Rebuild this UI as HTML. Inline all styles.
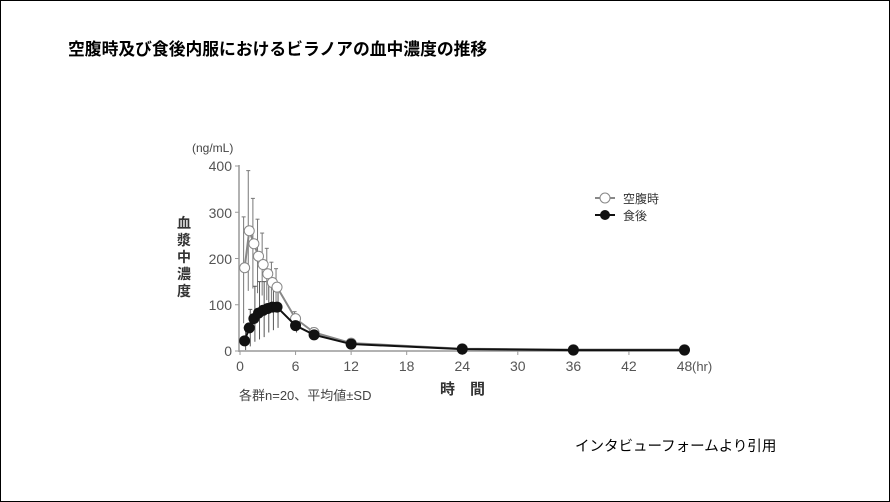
<!DOCTYPE html>
<html><head><meta charset="utf-8"><style>
body{margin:0;background:#fff;}
#f{position:absolute;left:0;top:0;width:888px;height:500px;border:1px solid #000;}
svg{position:absolute;left:0;top:0;}
text{font-family:"Liberation Sans","Noto Sans CJK JP",sans-serif;}
</style></head><body>
<div id="f"></div>
<svg id="s" width="890" height="502" xmlns="http://www.w3.org/2000/svg">
<text x="68" y="55" font-size="16.8" font-weight="bold" fill="#000">空腹時及び食後内服におけるビラノアの血中濃度の推移</text>
<text x="192" y="152" font-size="12" fill="#444">(ng/mL)</text>
<g font-size="14" fill="#555" text-anchor="end">
<text x="232" y="171">400</text><text x="232" y="218">300</text><text x="232" y="264">200</text><text x="232" y="310">100</text><text x="232" y="356">0</text>
</g>
<g font-size="14" font-weight="bold" fill="#333" text-anchor="middle">
<text x="184" y="228">血</text><text x="184" y="245">漿</text><text x="184" y="262">中</text><text x="184" y="279">濃</text><text x="184" y="296">度</text>
</g>
<g font-size="14" fill="#555" text-anchor="middle" id="xl"></g>
<text x="692" y="371" font-size="13" fill="#555">(hr)</text>
<text x="440" y="394" font-size="15" font-weight="bold" fill="#333">時</text>
<text x="470" y="394" font-size="15" font-weight="bold" fill="#333">間</text>
<text x="239" y="400" font-size="13" fill="#444">各群n=20、平均値±SD</text>
<line x1="595" y1="198" x2="615" y2="198" stroke="#888" stroke-width="2"/><circle cx="605" cy="198" r="5" fill="#fff" stroke="#888"/>
<text x="623" y="203" font-size="12" fill="#333">空腹時</text>
<line x1="595" y1="215" x2="615" y2="215" stroke="#111" stroke-width="2"/><circle cx="605" cy="215" r="5" fill="#111"/>
<text x="623" y="220" font-size="12" fill="#333">食後</text>
<text x="575" y="451" font-size="14.5" fill="#000">インタビューフォームより引用</text>
<g id="g"></g>
</svg>
<script>
var X=t=>240+t*9.26,Y=v=>351-v*0.4625,ns="http://www.w3.org/2000/svg",g=document.getElementById('g');
function el(n,a){var e=document.createElementNS(ns,n);for(var k in a)e.setAttribute(k,a[k]);g.appendChild(e);return e;}
el('line',{x1:239,y1:165,x2:239,y2:352,stroke:'#999','stroke-width':1.5});
el('line',{x1:239,y1:351,x2:686,y2:351,stroke:'#999','stroke-width':1.5});
[0,100,200,300,400].forEach(v=>el('line',{x1:235,y1:Y(v),x2:239,y2:Y(v),stroke:'#999'}));
var xl=document.getElementById('xl');
for(var t=0;t<=48;t+=6){el('line',{x1:X(t),y1:351,x2:X(t),y2:355,stroke:'#999'});var tx=document.createElementNS(ns,'text');tx.setAttribute('x',X(t));tx.setAttribute('y',371);tx.textContent=t;xl.appendChild(tx);}
var T=[0.5,1,1.5,2,2.5,3,3.5,4,6,8,12,24,36,48];
var F=[180,260,232,205,187,167,148,138,70,40,17,5,3,3],Fu=[290,390,330,285,255,222,192,178,85,50,20,6,4,4],Fl=[60,130,135,125,120,110,105,100,55,32,14,4,2,2];
var E=[22,50,70,82,88,92,95,95,55,35,15,4,2,2],Eu=[50,90,140,150,150,150,150,145,70,45,18,5,3,3],El=[2,10,20,25,30,40,45,50,40,25,12,3,1,1];
T.forEach((t,i)=>{el('line',{x1:X(t)-1,y1:Y(Fu[i]),x2:X(t)-1,y2:Y(Fl[i]),stroke:'#777'});el('line',{x1:X(t)-3,y1:Y(Fu[i]),x2:X(t)+1,y2:Y(Fu[i]),stroke:'#777'});
el('line',{x1:X(t)+1,y1:Y(Eu[i]),x2:X(t)+1,y2:Y(El[i]),stroke:'#555'});el('line',{x1:X(t)-1,y1:Y(Eu[i]),x2:X(t)+3,y2:Y(Eu[i]),stroke:'#555'});});
el('polyline',{points:T.map((t,i)=>X(t)+','+Y(F[i])).join(' '),fill:'none',stroke:'#888','stroke-width':2});
T.forEach((t,i)=>el('circle',{cx:X(t),cy:Y(F[i]),r:5,fill:'#fff',stroke:'#888'}));
el('polyline',{points:T.map((t,i)=>X(t)+','+Y(E[i])).join(' '),fill:'none',stroke:'#111','stroke-width':2});
T.forEach((t,i)=>el('circle',{cx:X(t),cy:Y(E[i]),r:5.5,fill:'#111'}));
</script>
</body></html>
